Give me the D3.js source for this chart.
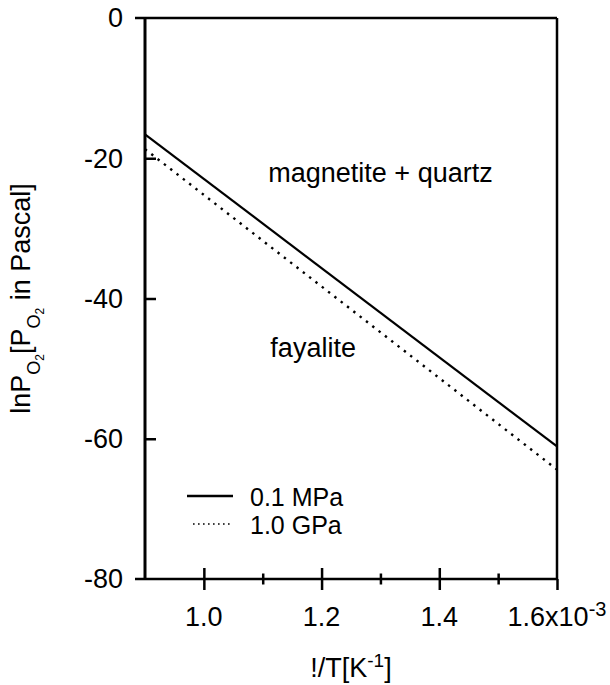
<!DOCTYPE html>
<html>
<head>
<meta charset="utf-8">
<script src="https://cdn.jsdelivr.net/npm/d3@7"></script>
<style>
  body { margin: 0; background: #fff; }
  svg { display: block; font-family: "Liberation Sans", Arial, sans-serif; }
  .axis path { display: none; }
  .axis line { stroke: #000; stroke-width: 2.5; }
</style>
</head>
<body>
<div id="container"></div>
<script>
// x: 1/T in units of 1e-3 K^-1, y: ln P(O2) in Pascal
var xDomain = [0.9, 1.6];
var yDomain = [-80, 0];
var xMajorTicks = [1.0, 1.2, 1.4, 1.6];
var xMinorTicks = [1.1, 1.3, 1.5];
var xTickLabels = ["1.0", "1.2", "1.4", "1.6x10"];
var yTicks = [0, -20, -40, -60, -80];
var yTickLabels = ["0", "-20", "-40", "-60", "-80"];

var seriesNames = ["0.1 MPa", "1.0 GPa"];
var lowPressure = [[0.9, -16.6], [1.6, -61.1]];
var highPressure = [[0.9, -18.7], [1.6, -64.4]];

var fieldNames = ["magnetite + quartz", "fayalite"];
var fieldAnchors = [[1.1095, -23.4], [1.113, -48.3]];

var W = 610, H = 685;
var margin = { left: 145, top: 18, right: 53, bottom: 106 };
var innerW = W - margin.left - margin.right;
var innerH = H - margin.top - margin.bottom;

var svg = d3.select("#container").append("svg")
  .attr("width", W)
  .attr("height", H);

var g = svg.append("g")
  .attr("transform", "translate(" + margin.left + "," + margin.top + ")");

var x = d3.scaleLinear().domain(xDomain).range([0, innerW]);
var y = d3.scaleLinear().domain(yDomain).range([innerH, 0]);

// frame (top and right)
g.append("line")
  .attr("x1", -10).attr("x2", innerW)
  .attr("y1", 0).attr("y2", 0)
  .attr("stroke", "#000").attr("stroke-width", 2.5);
g.append("line")
  .attr("x1", innerW).attr("x2", innerW)
  .attr("y1", 0).attr("y2", innerH)
  .attr("stroke", "#000").attr("stroke-width", 2.5);

// axis spines
g.append("line")
  .attr("x1", 0).attr("x2", 0)
  .attr("y1", 0).attr("y2", innerH)
  .attr("stroke", "#000").attr("stroke-width", 3);
g.append("line")
  .attr("x1", -10).attr("x2", innerW)
  .attr("y1", innerH).attr("y2", innerH)
  .attr("stroke", "#000").attr("stroke-width", 2.5);

// x axis ticks (cross the axis)
var xMajor = g.append("g").attr("class", "axis")
  .attr("transform", "translate(0," + innerH + ")")
  .call(d3.axisBottom(x).tickValues(xMajorTicks).tickSize(11).tickFormat(""));
xMajor.selectAll(".tick line").attr("y1", function (d) { return d === 1.6 ? 0 : -11; });

var xMinor = g.append("g").attr("class", "axis")
  .attr("transform", "translate(0," + innerH + ")")
  .call(d3.axisBottom(x).tickValues(xMinorTicks).tickSize(5.5).tickFormat(""));
xMinor.selectAll(".tick line").attr("y1", -5.5);

// y axis ticks
var yAxis = g.append("g").attr("class", "axis")
  .call(d3.axisLeft(y).tickValues(yTicks).tickSize(11).tickFormat(""));
yAxis.selectAll(".tick line").attr("x2", function (d) { return (d === 0 || d === -80) ? 0 : 11; });

// tick labels
g.selectAll(".ylab").data(yTicks).enter().append("text")
  .attr("class", "ylab")
  .attr("x", -22)
  .attr("y", function (d) { return y(d); })
  .attr("dy", "0.35em")
  .attr("text-anchor", "end")
  .attr("font-size", 27)
  .text(function (d, i) { return yTickLabels[i]; });

var xl = g.selectAll(".xlab").data(xMajorTicks).enter().append("text")
  .attr("class", "xlab")
  .attr("x", function (d) { return x(d); })
  .attr("y", innerH + 47)
  .attr("text-anchor", "middle")
  .attr("font-size", 27);
xl.append("tspan").text(function (d, i) { return xTickLabels[i]; });
xl.filter(function (d) { return d === 1.6; })
  .append("tspan").attr("dy", -10).attr("font-size", 20).text("-3");

// data lines
var line = d3.line()
  .x(function (d) { return x(d[0]); })
  .y(function (d) { return y(d[1]); });

g.append("path")
  .datum(lowPressure)
  .attr("d", line)
  .attr("fill", "none")
  .attr("stroke", "#000")
  .attr("stroke-width", 2.2);

g.append("path")
  .datum(highPressure)
  .attr("d", line)
  .attr("fill", "none")
  .attr("stroke", "#000")
  .attr("stroke-width", 2.4)
  .attr("stroke-dasharray", "2.4,5.6");

// field labels
g.selectAll(".field").data(fieldNames).enter().append("text")
  .attr("class", "field")
  .attr("x", function (d, i) { return x(fieldAnchors[i][0]); })
  .attr("y", function (d, i) { return y(fieldAnchors[i][1]); })
  .attr("font-size", 27)
  .text(function (d) { return d; });

// legend
var legendRows = [
  { name: seriesNames[0], x1: 187, x2: 233, y: 496, dash: null },
  { name: seriesNames[1], x1: 193, x2: 230, y: 524, dash: "1.6,3.4" }
];
var leg = svg.selectAll(".legend").data(legendRows).enter().append("g").attr("class", "legend");
leg.append("line")
  .attr("x1", function (d) { return d.x1; })
  .attr("x2", function (d) { return d.x2; })
  .attr("y1", function (d) { return d.y; })
  .attr("y2", function (d) { return d.y; })
  .attr("stroke", "#000")
  .attr("stroke-width", function (d) { return d.dash ? 1.6 : 2.4; })
  .attr("stroke-dasharray", function (d) { return d.dash; });
leg.append("text")
  .attr("x", 250)
  .attr("y", function (d) { return d.y + 9.5; })
  .attr("font-size", 25)
  .text(function (d) { return d.name; });

// x axis title
var xt = svg.append("text")
  .attr("x", margin.left + innerW / 2)
  .attr("y", 677)
  .attr("text-anchor", "middle")
  .attr("font-size", 27);
xt.append("tspan").text("!/T[K");
xt.append("tspan").attr("dy", -10).attr("font-size", 19).text("-1");
xt.append("tspan").attr("dy", 10).text("]");

// y axis title
var yt = svg.append("text")
  .attr("transform", "translate(30," + (margin.top + innerH / 2) + ") rotate(-90)")
  .attr("text-anchor", "middle")
  .attr("font-size", 27);
yt.append("tspan").text("lnP");
yt.append("tspan").attr("dy", 10).attr("font-size", 18).text("O");
yt.append("tspan").attr("dy", 4).attr("font-size", 12).text("2");
yt.append("tspan").attr("dy", -14).text("[P");
yt.append("tspan").attr("dy", 10).attr("font-size", 18).text("O");
yt.append("tspan").attr("dy", 4).attr("font-size", 12).text("2");
yt.append("tspan").attr("dy", -14).text(" in Pascal]");
</script>
</body>
</html>
